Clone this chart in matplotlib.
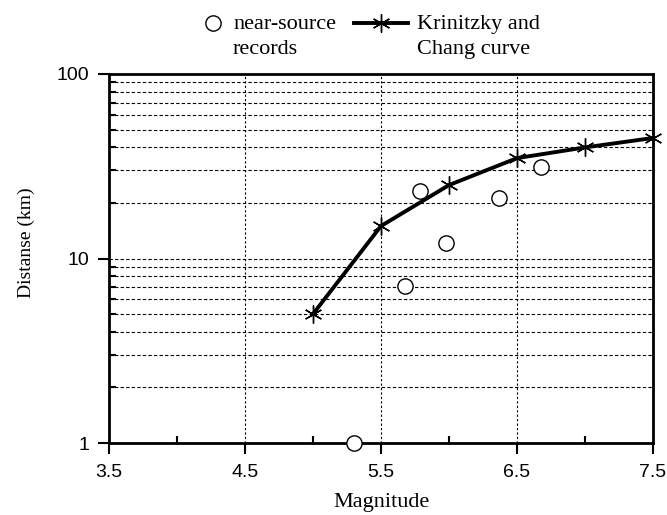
import matplotlib
matplotlib.use("Agg")
import matplotlib.pyplot as plt
from matplotlib.ticker import FixedLocator, NullFormatter, FixedFormatter
from matplotlib.lines import Line2D

# Data
curve_mag = [5.0, 5.5, 6.0, 6.5, 7.0, 7.5]
curve_dist = [5, 15, 25, 35, 40, 45]
rec_mag = [5.3, 5.68, 5.79, 5.98, 6.37, 6.68]
rec_dist = [1.0, 7.1, 23.3, 12.1, 21.4, 31.3]
xticks = [3.5, 4.5, 5.5, 6.5, 7.5]
xtick_labels = ["3.5", "4.5", "5.5", "6.5", "7.5"]
xminor = [4.0, 5.0, 6.0, 7.0]
yticks = [1, 10, 100]
ytick_labels = ["1", "10", "100"]
legend_labels = [["near-source", "records"], ["Krinitzky and", "Chang curve"]]

serif = "Liberation Serif"
sans = "Liberation Sans"
W, H = 667, 515

def fx(px):
    return px / W

def fy(py):
    return 1 - py / H

fig = plt.figure(figsize=(6.67, 5.15), dpi=100)
ax = fig.add_axes([fx(109), fy(443), (653 - 109) / W, (443 - 74) / H])

ax.set_yscale("log")
ax.set_xlim(3.5, 7.5)
ax.set_ylim(1, 100)

# grid lines
yminor = [m * d for d in (1, 10) for m in range(2, 10)]
for y in yminor + [10]:
    ax.axhline(y, color="black", lw=0.8, ls=(0, (3, 2)), zorder=1)
for x in [4.5, 5.5, 6.5]:
    ax.axvline(x, color="black", lw=0.8, ls=(0, (2, 2)), zorder=1)

ax.plot(curve_mag, curve_dist, color="black", lw=2.8, marker=(6, 2, 0),
        ms=13, mew=1.0, zorder=3, clip_on=False)
ax.plot(rec_mag, rec_dist, ls="none", marker="o", ms=11, mfc="white",
        mec="black", mew=1.0, zorder=4, clip_on=False)

for s in ax.spines.values():
    s.set_linewidth(2.0)

ax.xaxis.set_major_locator(FixedLocator(xticks))
ax.xaxis.set_major_formatter(FixedFormatter(xtick_labels))
ax.xaxis.set_minor_locator(FixedLocator(xminor))
ax.xaxis.set_minor_formatter(NullFormatter())
ax.yaxis.set_major_locator(FixedLocator(yticks))
ax.yaxis.set_major_formatter(FixedFormatter(ytick_labels))
ax.yaxis.set_minor_locator(FixedLocator(yminor))
ax.yaxis.set_minor_formatter(NullFormatter())

ax.tick_params(axis="both", which="major", direction="out", length=8, width=1.5,
               labelsize=14, pad=6)
ax.tick_params(axis="x", which="major", pad=7)
ax.tick_params(axis="both", which="minor", direction="in", length=5, width=1.5)
for lab in ax.get_xticklabels() + ax.get_yticklabels():
    lab.set_fontfamily(sans)

# axis labels
fig.text(fx(382), fy(507), "Magnitude", fontfamily=serif, fontsize=16,
         ha="center", va="baseline")
fig.text(fx(26), fy(243), "Distanse (km)", fontfamily=serif, fontsize=14,
         ha="center", va="center", rotation=90)

# legend (drawn manually above the axes)
fig.add_artist(Line2D([fx(213)], [fy(23)], ls="none", marker="o", ms=11,
                      mfc="white", mec="black", mew=1.0))
fig.add_artist(Line2D([fx(354), fx(408)], [fy(23), fy(23)], color="black", lw=2.8))
fig.add_artist(Line2D([fx(381)], [fy(23)], ls="none", marker=(6, 2, 0), ms=13,
                      mec="black", mew=1.0))
for x0, lines in zip([233, 417], legend_labels):
    for i, t in enumerate(lines):
        fig.text(fx(x0), fy(29 + 25 * i), t, fontfamily=serif, fontsize=16,
                 ha="left", va="baseline")

fig.savefig("out.png", dpi=100)
